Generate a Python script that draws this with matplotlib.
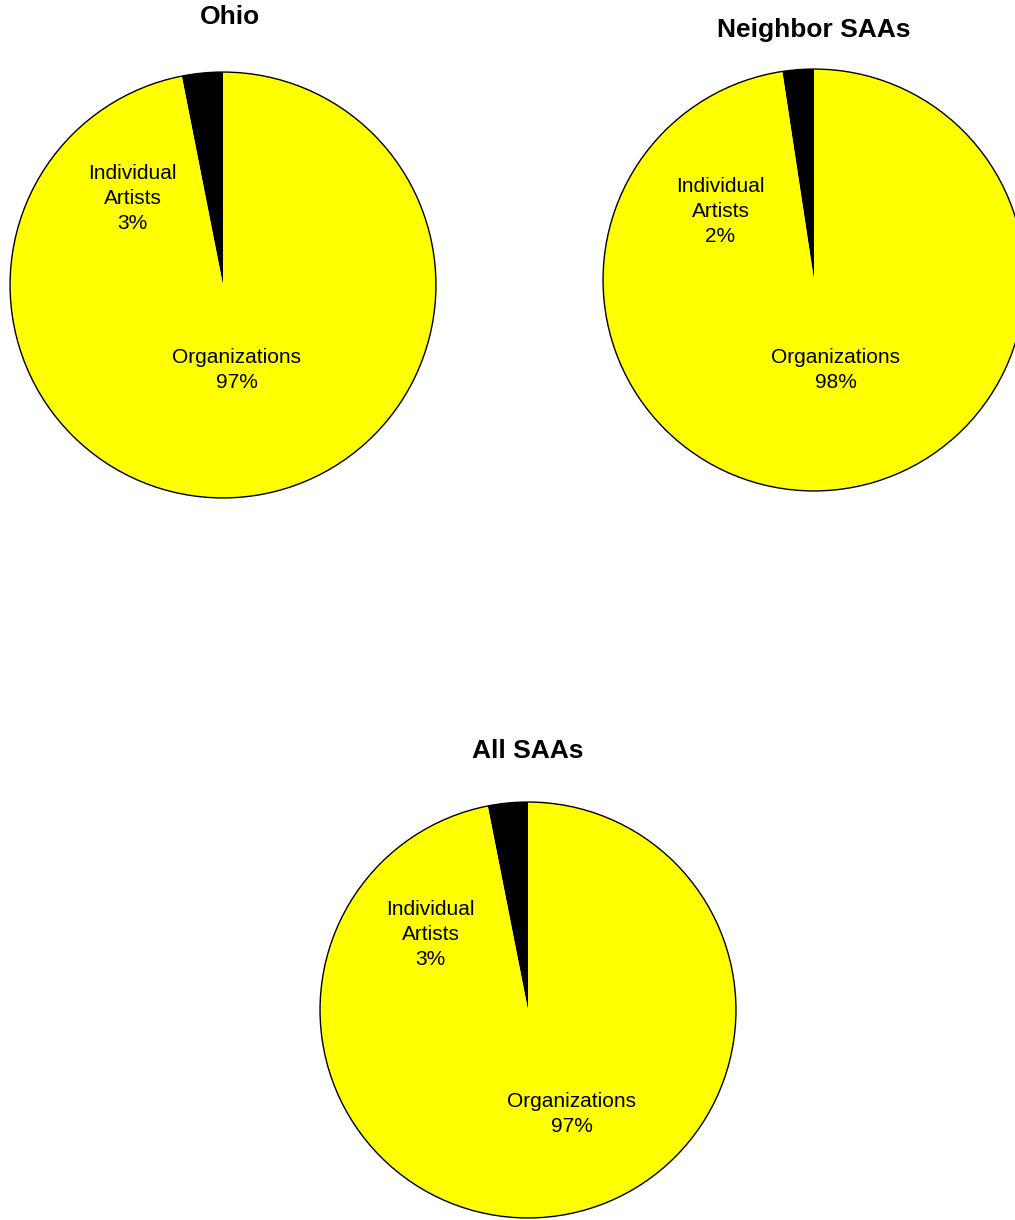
import matplotlib
matplotlib.use("Agg")
import matplotlib.pyplot as plt

plt.rcParams['font.family'] = ['Liberation Sans', 'DejaVu Sans']

titles = ["Ohio", "Neighbor SAAs", "All SAAs"]
categories = ["Individual Artists", "Organizations"]
individual_share = [3.1, 2.4, 3.1]
organization_share = [96.9, 97.6, 96.9]
label_pcts = [["3%", "97%"], ["2%", "98%"], ["3%", "97%"]]
colors = ["#000000", "#FFFF00"]

W, H = 1015, 1220
fig = plt.figure(figsize=(W / 100, H / 100), dpi=100)

# pixel boxes: (left, top, size_x, size_y), label offsets in radius units, title y
boxes = [(9, 71, 428, 428), (602, 68, 424, 424), (319, 801, 418, 418)]
ia_pos = [(-0.425, 0.407), (-0.443, 0.325), (-0.469, 0.364)]
org_pos = [(0.065, -0.40), (0.104, -0.425), (0.21, -0.50)]
title_px = [(230, 17), (814, 30), (528, 751)]

for i in range(3):
    l, t, w, h = boxes[i]
    ax = fig.add_axes([l / W, 1 - (t + h) / H, w / W, h / H])
    ax.pie([individual_share[i], organization_share[i]], colors=colors,
           startangle=90, counterclock=True, radius=1,
           wedgeprops=dict(edgecolor="none"))
    circ = plt.Circle((0, 0), 1, fill=False, edgecolor="black", lw=1.0)
    ax.add_patch(circ)
    ax.set_xlim(-1.005, 1.005)
    ax.set_ylim(-1.005, 1.005)
    ax.set_aspect("auto")
    ax.axis("off")
    ax.text(ia_pos[i][0], ia_pos[i][1],
            "Individual\nArtists\n" + label_pcts[i][0],
            ha="center", va="center", fontsize=15, linespacing=1.38)
    ax.text(org_pos[i][0], org_pos[i][1],
            "Organizations\n" + label_pcts[i][1],
            ha="center", va="center", fontsize=15, linespacing=1.38)
    fig.text(title_px[i][0] / W, 1 - title_px[i][1] / H, titles[i],
             ha="center", va="center", fontsize=19, fontweight="bold")

fig.savefig("out.png", dpi=100)
